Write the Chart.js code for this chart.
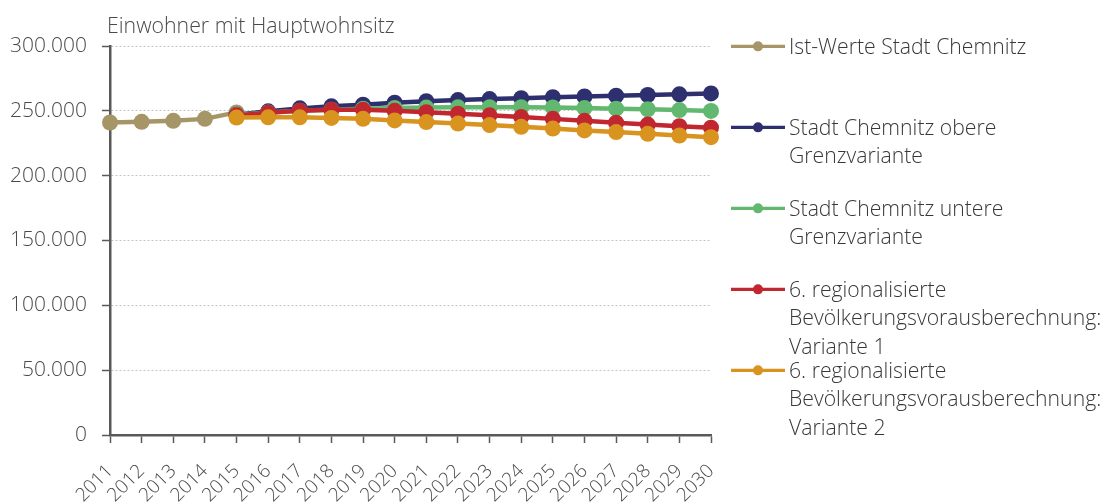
<!DOCTYPE html>
<html>
<head>
<meta charset="utf-8">
<script src="https://cdn.jsdelivr.net/npm/chart.js@4.4.0/dist/chart.umd.min.js"></script>
<style>
  html, body { margin: 0; padding: 0; background: #fff; overflow: hidden; }
  #wrap { position: relative; width: 1105px; height: 502px; overflow: hidden; font-family: "Open Sans", sans-serif; font-weight: 350; }
  #c { position: absolute; left: 0; top: 0; }
  #ytitle { position: absolute; left: 107px; top: 10px; font-size: 21.3px; color: #4a4a4a; white-space: nowrap; }
  #legend { position: absolute; left: 730px; top: 0; width: 375px; height: 502px; }
  .item { position: absolute; left: 0; display: flex; align-items: flex-start; }
  .sym { width: 56px; height: 29px; flex: none; }
  .txt { width: 325px; font-size: 21.2px; line-height: 28.7px; color: #383838; margin-left: 3px; }
</style>
</head>
<body>
<div id="wrap">
  <canvas id="c" width="1105" height="502"></canvas>
  <div id="ytitle">Einwohner mit Hauptwohnsitz</div>
  <div id="legend"></div>
</div>
<script>
// Jahre auf der x-Achse
const years = ['2011', '2012', '2013', '2014', '2015', '2016', '2017', '2018', '2019', '2020',
               '2021', '2022', '2023', '2024', '2025', '2026', '2027', '2028', '2029', '2030'];

// Einwohner mit Hauptwohnsitz
const istWerte = [241000, 241500, 242300, 243800, 248800, null, null, null, null, null,
                  null, null, null, null, null, null, null, null, null, null];
const obereGrenzvariante = [null, null, null, null, 247000, 249600, 251900, 253500, 254700, 256300,
                            257400, 258300, 259100, 259800, 260500, 261100, 261700, 262200, 262700, 263400];
const untereGrenzvariante = [null, null, null, null, 246800, 248700, 250100, 250900, 251600, 252200,
                             252500, 252700, 252800, 252800, 252600, 252200, 251700, 251200, 250600, 249900];
const variante1 = [null, null, null, null, 246500, 248600, 250000, 250800, 250800, 250000,
                   249000, 247800, 246500, 245200, 243800, 242300, 240800, 239400, 238200, 237000];
const variante2 = [null, null, null, null, 244800, 245000, 245000, 244500, 243800, 242600,
                   241300, 240200, 239000, 237700, 236300, 234900, 233600, 232300, 231000, 229700];

const seriesNames = [
  'Ist-Werte Stadt Chemnitz',
  'Stadt Chemnitz obere Grenzvariante',
  'Stadt Chemnitz untere Grenzvariante',
  '6. regionalisierte Bevölkerungsvorausberechnung: Variante 1',
  '6. regionalisierte Bevölkerungsvorausberechnung: Variante 2'
];
const seriesValues = [istWerte, obereGrenzvariante, untereGrenzvariante, variante1, variante2];
const seriesColors = ['#A69667', '#2E2F6E', '#62B86F', '#C1272F', '#D9931F'];

// y-Achse: 0 bis 300.000 in Schritten von 50.000
const yMin = 0;
const yMax = 300000;
const yStep = 50000;

function formatDe(v) {
  return String(v).replace(/\B(?=(\d{3})+(?!\d))/g, '.');
}

const datasets = seriesValues.map((vals, i) => ({
  label: seriesNames[i],
  data: vals,
  borderColor: seriesColors[i],
  backgroundColor: seriesColors[i],
  pointBackgroundColor: seriesColors[i],
  pointBorderWidth: 0,
  pointRadius: 8,
  borderWidth: 4.5,
  tension: 0,
  spanGaps: false,
  // spätere Reihen liegen oben
  order: seriesValues.length - i
}));

const axisColor = '#595959';
const labelColor = '#4a4a4a';
const tickFont = { family: 'Open Sans', weight: 350 };

new Chart(document.getElementById('c'), {
  type: 'line',
  data: { labels: years, datasets },
  options: {
    responsive: false,
    animation: false,
    events: [],
    layout: { padding: { top: 46, right: 394, left: 0, bottom: 0 } },
    plugins: { legend: { display: false }, tooltip: { enabled: false }, title: { display: false } },
    scales: {
      x: {
        offset: false,
        afterFit(scale) { scale.height = 67; },
        grid: { display: true, drawOnChartArea: false, drawTicks: true, tickLength: 8, tickColor: axisColor, tickWidth: 1.5 },
        border: { display: true, color: axisColor, width: 2.5 },
        ticks: {
          font: Object.assign({ size: 19 }, tickFont),
          color: labelColor,
          minRotation: 45,
          maxRotation: 45,
          autoSkip: false,
          padding: 17
        }
      },
      y: {
        min: yMin,
        max: yMax,
        afterFit(scale) { scale.width = 110; },
        grid: { color: '#c4c4c4', lineWidth: 1, tickLength: 8, tickColor: axisColor, tickWidth: 1.5, tickBorderDash: [] },
        border: { display: true, color: axisColor, width: 2.5, dash: [2, 2] },
        ticks: {
          stepSize: yStep,
          font: Object.assign({ size: 21 }, tickFont),
          color: labelColor,
          padding: 15,
          callback: (v) => formatDe(v)
        }
      }
    }
  }
});

// Legende rechts neben dem Diagramm
const legend = document.getElementById('legend');
const rowPitch = 81;
const firstRowCenter = 46;
seriesNames.forEach((name, i) => {
  const item = document.createElement('div');
  item.className = 'item';
  item.style.top = (firstRowCenter + i * rowPitch - 14.35) + 'px';
  const c = seriesColors[i];
  item.innerHTML =
    '<svg class="sym" viewBox="0 0 56 29"><line x1="1" y1="14.35" x2="55" y2="14.35" stroke="' + c +
    '" stroke-width="3.3"/><circle cx="28" cy="14.35" r="5" fill="' + c + '"/></svg>' +
    '<div class="txt"></div>';
  item.querySelector('.txt').textContent = name;
  legend.appendChild(item);
});
</script>
</body>
</html>
